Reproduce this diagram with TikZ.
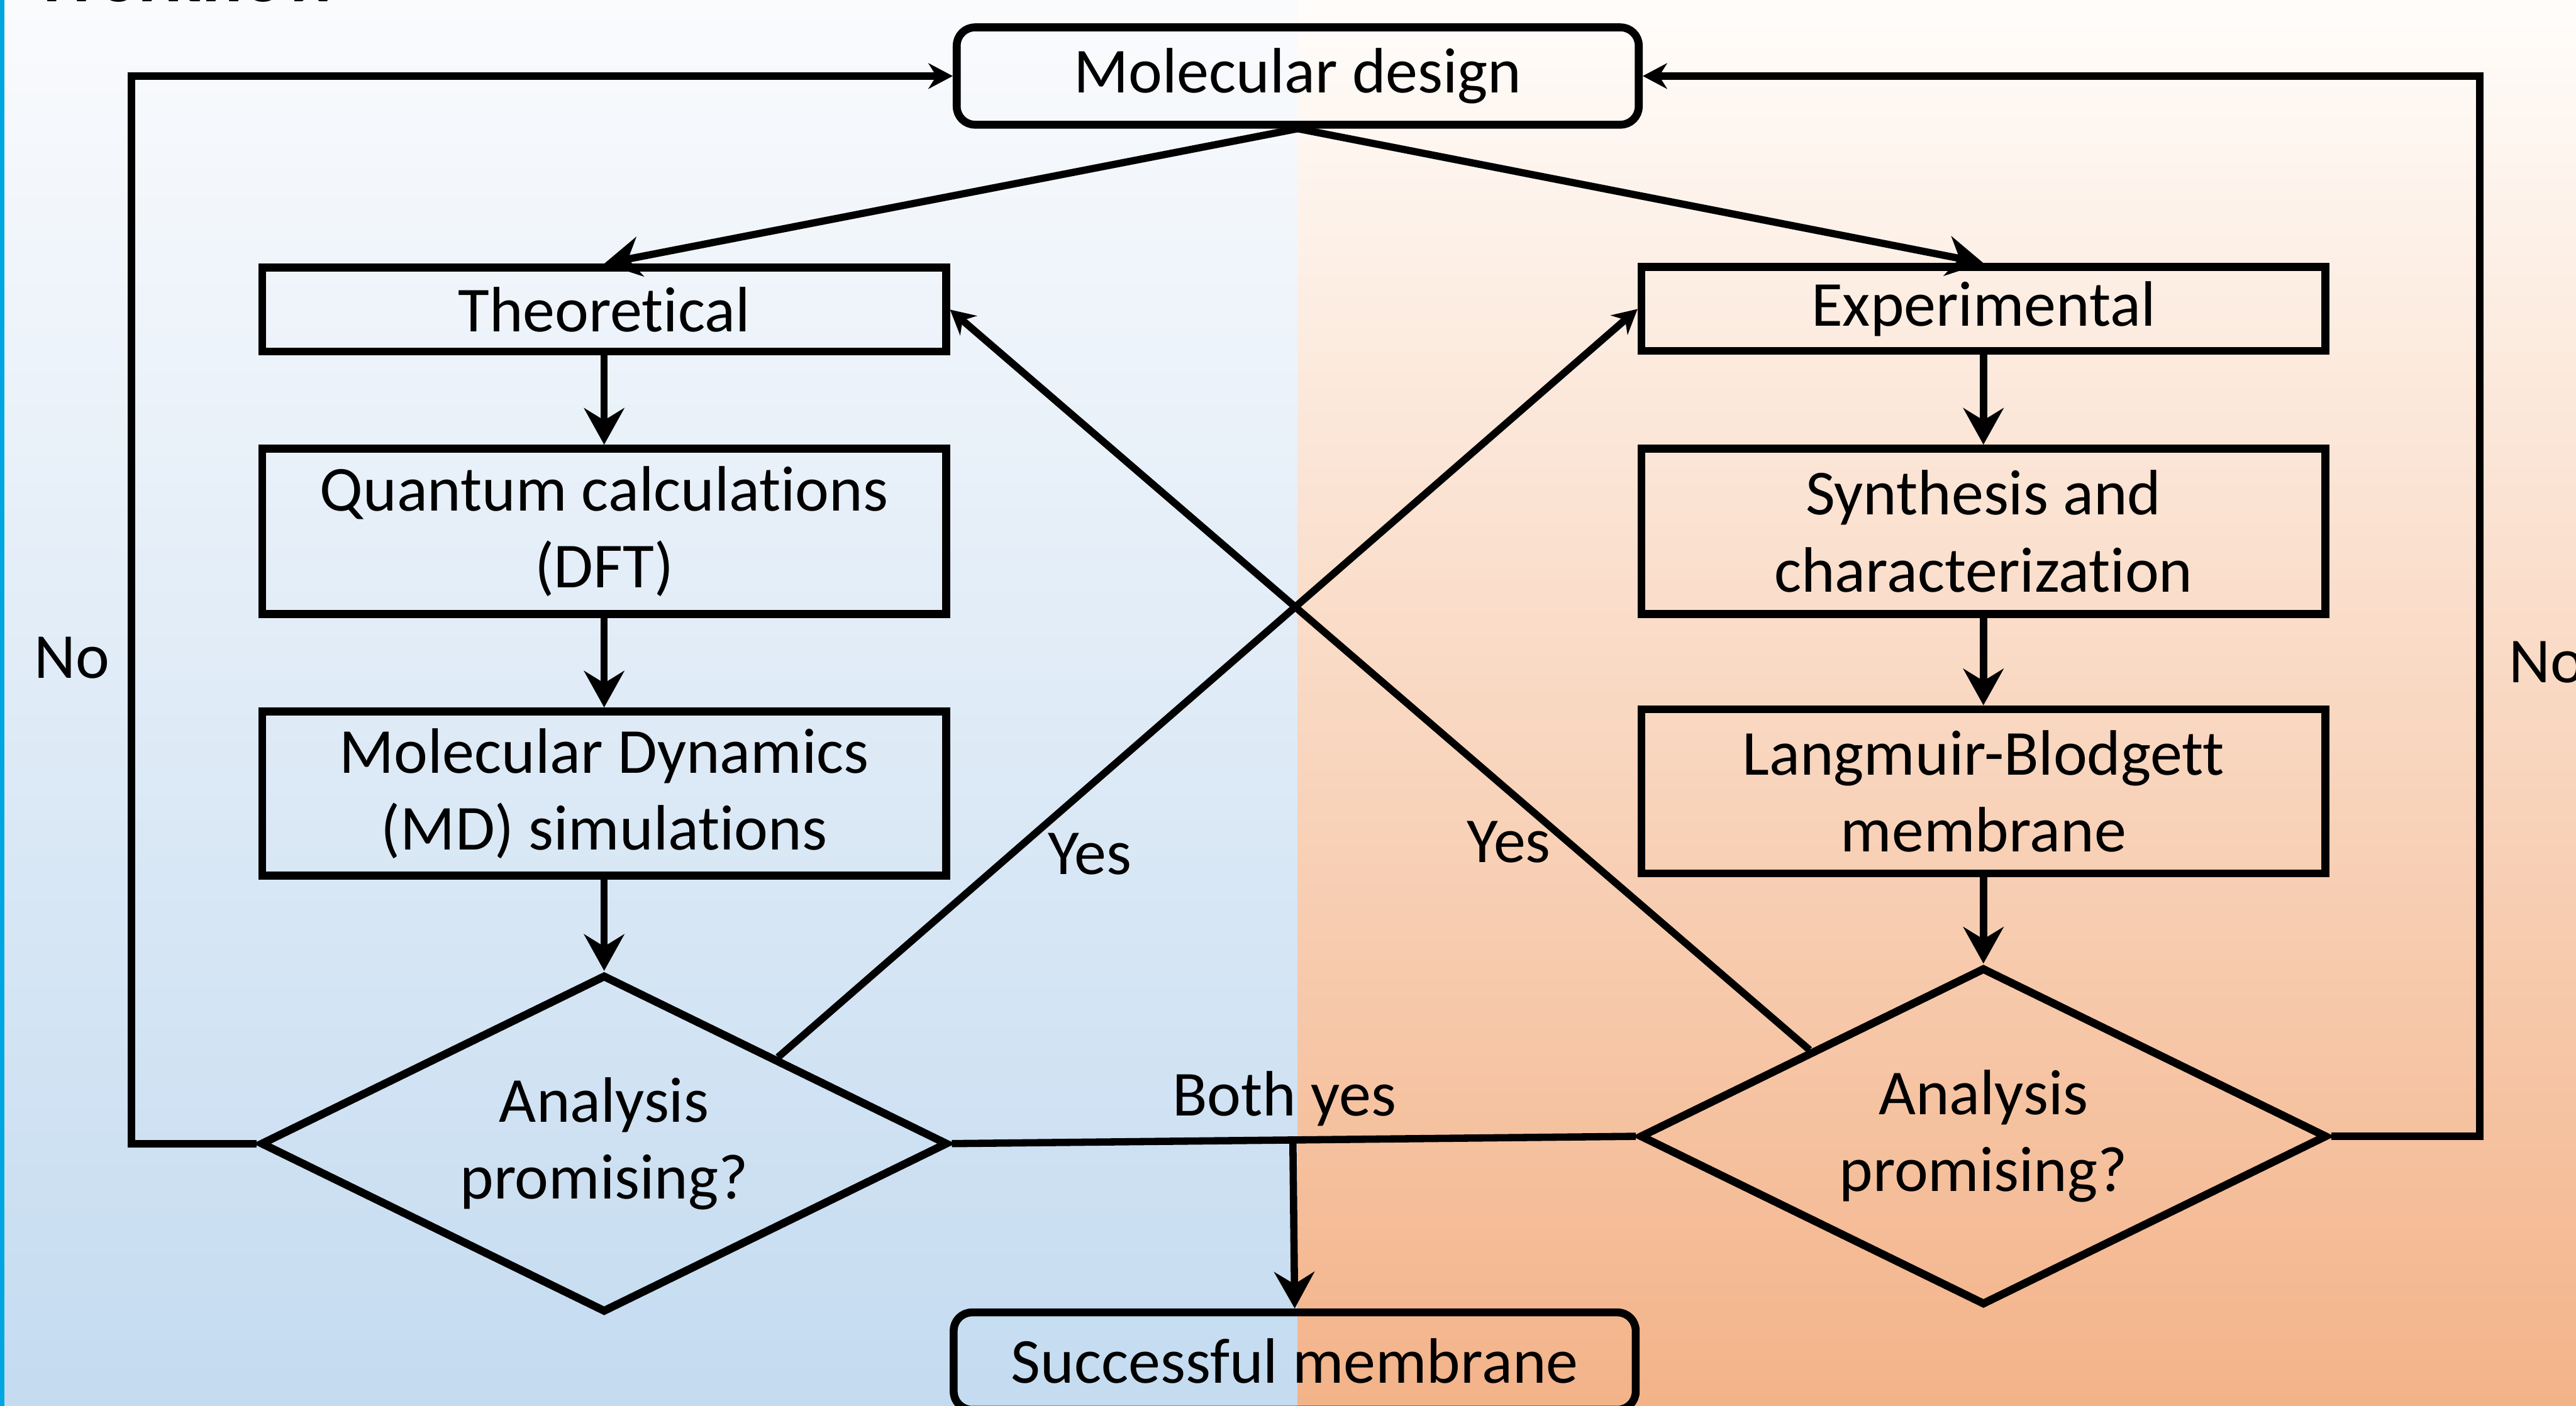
\documentclass[tikz,border=0pt]{standalone}
\usepackage{fontspec}
\setmainfont{Carlito}[Ligatures=NoCommon]
\usepackage{tikz}
\usetikzlibrary{calc, shapes.geometric, arrows.meta}
\definecolor{lefttop}{RGB}{250,251,253}
\definecolor{leftbot}{RGB}{196,219,240}
\definecolor{righttop}{RGB}{255,253,251}
\definecolor{rightbot}{RGB}{243,179,137}
\definecolor{slideblue}{RGB}{0,166,224}

\begin{document}
\begin{tikzpicture}[
  font=\fontsize{30}{36}\selectfont,
  box/.style={draw, line width=3.7pt, inner sep=0pt, align=center, minimum width=11.24cm},
  roundbox/.style={box, rounded corners=0.3cm, minimum width=11.21cm, minimum height=1.6cm},
  decision/.style={draw, diamond, aspect=2, line width=3.7pt, inner sep=0pt, align=center, minimum width=11.3cm, minimum height=5.55cm},
  arr/.style={line width=3.4pt, -{Stealth[length=0.6cm, width=0.66cm, inset=0.2cm]}},
  arrsmall/.style={line width=3.4pt, -{Stealth[length=0.4cm, width=0.42cm, inset=0.13cm]}},
  lbl/.style={inner sep=0pt, anchor=base}
]
\useasboundingbox (0,0) rectangle (42.34,23.11);
\shade[top color=lefttop, bottom color=leftbot] (0,0) rectangle (21.33,23.11);
\shade[top color=righttop, bottom color=rightbot] (21.33,0) rectangle (42.34,23.11);
\fill[slideblue] (0,0) rectangle (0.07,23.11);
\node[anchor=base west, inner sep=0pt, font=\fontsize{35}{42}\selectfont\bfseries] (title) at (0.54,23.08) {Workflow};

\node[roundbox] (design) at (21.33,21.86) {Molecular design};
\node[box, minimum height=1.38cm] (theo) at (9.93,18.02) {Theoretical};
\node[box, minimum height=2.72cm] (quantum) at (9.93,14.375) {Quantum calculations\\(DFT)};
\node[box, minimum height=2.70cm] (md) at (9.93,10.065) {Molecular Dynamics\\(MD) simulations};
\node[decision] (dL) at (9.93,4.31) {Analysis\\promising?};
\node[box, minimum height=1.38cm] (expt) at (32.6,18.03) {Experimental};
\node[box, minimum height=2.72cm] (synth) at (32.6,14.375) {Synthesis and\\characterization};
\node[box, minimum height=2.70cm] (lb) at (32.6,10.1) {Langmuir-Blodgett\\membrane};
\node[decision] (dR) at (32.6,4.43) {Analysis\\promising?};
\node[roundbox] (success) at (21.28,0.735) {Successful membrane};

\draw[arr] (design.south) -- (theo.north);
\draw[arr] (design.south) -- (expt.north);
\foreach \a/\b in {theo/quantum, quantum/md, md/dL, expt/synth, synth/lb, lb/dR}
  \draw[arr] (\a.south) -- (\b.north);
\draw[arrsmall] (dL.north east) -- (expt.west);
\draw[arrsmall] (dR.north west) -- (theo.east);
\draw[line width=3.4pt] (dL.east) -- (dR.west);
\coordinate (join) at ($(dL.east)!(success.north)!(dR.west)$);
\draw[arr] (join) -- (success.north);
\coordinate (loopL) at (2.16,0);
\coordinate (loopR) at (40.76,0);
\draw[arrsmall] (dL.west) -- (dL.west -| loopL) |- (design.west);
\draw[arrsmall] (dR.east) -- (dR.east -| loopR) |- (design.east);

\node[lbl] (bothyes) at (21.11,4.77) {Both yes};
\node[lbl] (yesL) at (17.91,8.74) {Yes};
\node[lbl] (yesR) at (24.80,8.93) {Yes};
\node[lbl] (noL) at (1.18,11.96) {No};
\node[lbl, anchor=base west] (noR) at (41.23,11.89) {No};
\end{tikzpicture}
\end{document}
